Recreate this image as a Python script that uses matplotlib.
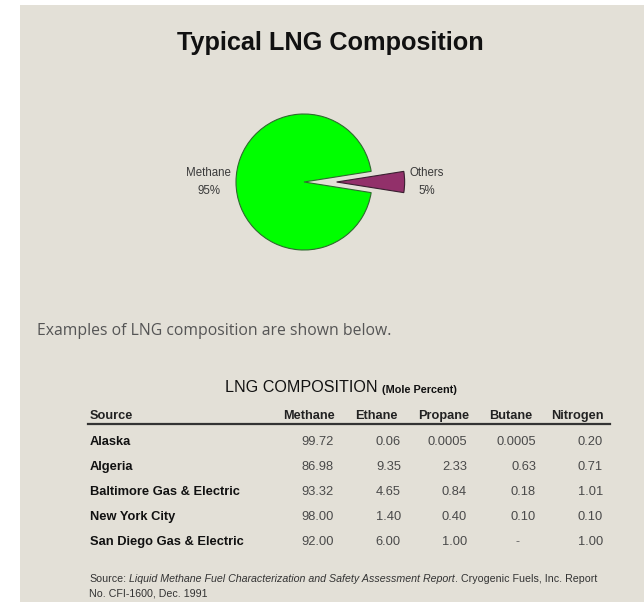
import matplotlib
matplotlib.use("Agg")
import matplotlib.pyplot as plt
from matplotlib.patches import Rectangle
from matplotlib.lines import Line2D

# ---------------- data ----------------
pie_labels = ["Methane", "Others"]
pie_shares = [95, 5]
pie_colors = ["#00FF00", "#92306A"]

title = "Typical LNG Composition"
intro = "Examples of LNG composition are shown below."
table_title = "LNG COMPOSITION"
table_unit = "(Mole Percent)"

sources = ["Alaska", "Algeria", "Baltimore Gas & Electric", "New York City",
           "San Diego Gas & Electric"]
columns = ["Methane", "Ethane", "Propane", "Butane", "Nitrogen"]
methane = ["99.72", "86.98", "93.32", "98.00", "92.00"]
ethane = ["0.06", "9.35", "4.65", "1.40", "6.00"]
propane = ["0.0005", "2.33", "0.84", "0.40", "1.00"]
butane = ["0.0005", "0.63", "0.18", "0.10", "-"]
nitrogen = ["0.20", "0.71", "1.01", "0.10", "1.00"]

note_line1 = [("Source:", "normal"),
              ("Liquid Methane Fuel Characterization and Safety Assessment Report", "italic"),
              (". Cryogenic Fuels, Inc. Report", "normal")]
note_line2 = "No. CFI-1600, Dec. 1991"

# ---------------- figure ----------------
W, H = 644, 602
fig = plt.figure(figsize=(W / 100, H / 100), dpi=100)
fig.patch.set_facecolor("white")


def fx(px):
    return px / W


def fy(py):
    return 1 - py / H


# beige panel
fig.patches.append(Rectangle((fx(20), 0), 1 - fx(20), fy(5), transform=fig.transFigure,
                             facecolor="#E3E0D7", edgecolor="none", zorder=-10))

SANS = "Liberation Sans"

fig.text(fx(330), fy(43), title, ha="center", va="center", fontsize=18.2,
         fontweight="bold", family=SANS, color="#111111")

# pie
cx, cy, r = 304, 182, 68
half = 150
ax = fig.add_axes([fx(cx - half), fy(cy + half), 2 * half / W, 2 * half / H])
ax.set_zorder(1)
labels = [f"{l}\n{v}%" for l, v in zip(pie_labels, pie_shares)]
wedges, texts = ax.pie(pie_shares, labels=labels, colors=pie_colors, startangle=9,
                       explode=[0, 0.48], labeldistance=1.07,
                       wedgeprops=dict(linewidth=0.8),
                       textprops=dict(fontsize=8.3, family=SANS, color="#3a3a3a",
                                      multialignment="center", linespacing=1.75))
wedges[0].set_edgecolor("#2E6B2E")
wedges[1].set_edgecolor("#3a2030")
lim = half / r
ax.set_xlim(-lim, lim)
ax.set_ylim(-lim, lim)
ax.set_aspect("equal")
ax.axis("off")

# intro text
fig.text(fx(37), fy(331), intro, ha="left", va="center", fontsize=11.3,
         family="Open Sans", color="#555555")

# table title
fig.text(fx(225), fy(388), table_title, ha="left", va="center", fontsize=11.6,
         family=SANS, color="#111111", fontweight="medium")
fig.text(fx(382), fy(390), table_unit, ha="left", va="center", fontsize=7.8,
         fontweight="bold", family=SANS, color="#111111")

# header
hy = 416
fig.text(fx(90), fy(hy), "Source", ha="left", va="center", fontsize=9.2,
         fontweight="bold", family=SANS, color="#222222")
col_right = [335, 398, 469, 532, 604]
for c, xr in zip(columns, col_right):
    fig.text(fx(xr), fy(hy), c, ha="right", va="center", fontsize=9.2,
             fontweight="bold", family=SANS, color="#222222")
fig.lines.append(Line2D([fx(88), fx(610)], [fy(424), fy(424)], transform=fig.transFigure,
                        color="#333333", linewidth=1.6))

# rows
row_y = [442, 467, 492, 517, 542]
num_right = [334, 401, 467, 536, 603]
cols_data = [methane, ethane, propane, butane, nitrogen]
for i, (src, yy) in enumerate(zip(sources, row_y)):
    fig.text(fx(90), fy(yy), src, ha="left", va="center", fontsize=9.3,
             fontweight="bold", family=SANS, color="#111111")
    for col, xr in zip(cols_data, num_right):
        val = col[i]
        if val == "-":
            fig.text(fx(xr - 18), fy(yy), val, ha="center", va="center", fontsize=9,
                     family=SANS, color="#666666")
        else:
            fig.text(fx(xr), fy(yy), val, ha="right", va="center", fontsize=9.3,
                     family=SANS, color="#4a4a4a")

# source note with mixed styles
renderer = fig.canvas.get_renderer()
x = fx(89)
for s, st in note_line1:
    t = fig.text(x, fy(579), s, ha="left", va="center", fontsize=7.7, style=st,
                 family=SANS, color="#333333")
    bb = t.get_window_extent(renderer=renderer)
    x = bb.x1 / fig.bbox.width + (3 / W if s == "Source:" else 0)
fig.text(fx(89), fy(594), note_line2, ha="left", va="center", fontsize=7.7,
         family=SANS, color="#333333")

fig.savefig("out.png", dpi=100, facecolor=fig.get_facecolor())
